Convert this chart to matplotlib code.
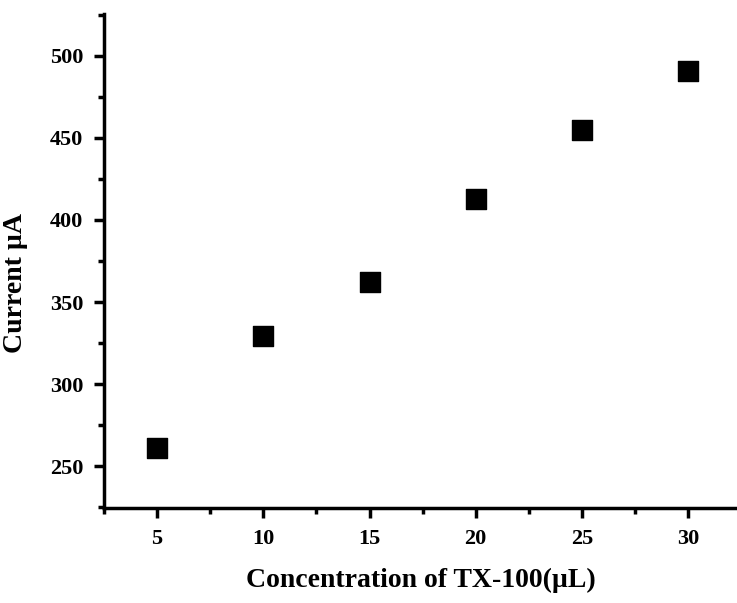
import numpy as np
import matplotlib
matplotlib.use("Agg")
import matplotlib.pyplot as plt
from matplotlib.ticker import MultipleLocator

# data
conc = [5, 10, 15, 20, 25, 30]
current = [261, 329, 362, 413, 455, 491]

plt.rcParams['font.family'] = ['Liberation Serif', 'DejaVu Serif']
plt.rcParams['font.weight'] = 'bold'

fig = plt.figure(figsize=(7.37, 6.03), dpi=100)
ax = fig.add_axes([104/737, 1 - 508/603, (737 - 104)/737, (508 - 14)/603])

ax.scatter(conc, current, marker='s', s=190, color='black', zorder=3)

ax.set_xlim(2.5, 32.3)
ax.set_ylim(224.4, 525.6)
ax.xaxis.set_major_locator(MultipleLocator(5))
ax.xaxis.set_minor_locator(MultipleLocator(2.5))
ax.yaxis.set_major_locator(MultipleLocator(50))
ax.yaxis.set_minor_locator(MultipleLocator(25))

for s in ['top', 'right']:
    ax.spines[s].set_visible(False)
for s in ['left', 'bottom']:
    ax.spines[s].set_linewidth(2.5)

ax.tick_params(which='major', direction='out', length=7, width=2.5, labelsize=16, pad=8)
ax.tick_params(which='minor', direction='out', length=4, width=2.5)

ax.set_xlabel('Concentration of TX-100(µL)', fontsize=20, fontweight='bold', labelpad=14)
ax.set_ylabel('Current µA', fontsize=20, fontweight='bold')
ax.yaxis.set_label_coords(-0.12, 0.455)

fig.savefig('out.png', dpi=100)
